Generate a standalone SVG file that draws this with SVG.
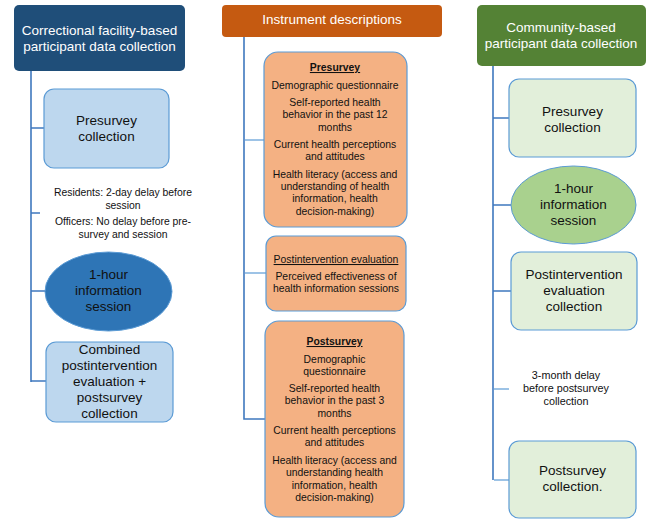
<svg xmlns="http://www.w3.org/2000/svg" width="656" height="527" viewBox="0 0 656 527">
<style>
text{font-family:"Liberation Sans",Arial,sans-serif;fill:#111;text-anchor:middle}
.big{font-size:13.5px}
.sm{font-size:10.4px}
.hd{font-size:13.5px;fill:#fff}
.con{stroke:#3F78BE;stroke-width:1.6;fill:none}
.lt{stroke:#9DC3E6;stroke-width:2;fill:none}
.bl{fill:#BDD7EE;stroke:#5B9BD5;stroke-width:1.2}
.gr{fill:#E2EFDA;stroke:#5B9BD5;stroke-width:1.2}
.or{fill:#F4B183;stroke:#5B9BD5;stroke-width:1.2}
.u{text-decoration:underline;font-weight:bold}
</style>
<rect width="656" height="527" fill="#fff"/>
<g id="connectors">
<path class="con" d="M31 71V382M31 128H44M31 213H40M31 291H45M31 381H46"/>
<path class="lt" d="M245 140H264M245 273H266"/>
<path class="con" d="M244 37V419H265"/>
<path class="con" d="M493 66V480M493 118H509M493 205H511M493 291H511"/>
<path class="lt" d="M494 389H509M494 480H509"/>
</g>
<g id="hdr-left">
<rect x="14" y="5" width="171" height="66" rx="5" fill="#1F4E79"/>
<text class="hd" x="99.5" y="35">Correctional facility-based</text>
<text class="hd" x="99.5" y="51">participant data collection</text>
</g>
<g id="pre-left">
<rect class="bl" x="44" y="89" width="125" height="79" rx="10"/>
<text class="big" x="106.5" y="125">Presurvey</text>
<text class="big" x="106.5" y="141">collection</text>
</g>
<g id="delay-left">
<text class="sm" x="123" y="196">Residents: 2-day delay before</text>
<text class="sm" x="123" y="209">session</text>
<text class="sm" x="123" y="225">Officers: No delay before pre-</text>
<text class="sm" x="123" y="238">survey and session</text>
</g>
<g id="session-left">
<ellipse cx="108.5" cy="291.5" rx="63.5" ry="39.5" fill="#2E75B6" stroke="#5B9BD5" stroke-width="1"/>
<text class="big" x="108.5" y="279">1-hour</text>
<text class="big" x="108.5" y="295">information</text>
<text class="big" x="108.5" y="311">session</text>
</g>
<g id="post-left">
<rect class="bl" x="46" y="342" width="127" height="80" rx="10"/>
<text class="big" x="109.5" y="354">Combined</text>
<text class="big" x="109.5" y="370">postintervention</text>
<text class="big" x="109.5" y="386">evaluation +</text>
<text class="big" x="109.5" y="402">postsurvey</text>
<text class="big" x="109.5" y="418">collection</text>
</g>
<g id="hdr-mid">
<rect x="222" y="5" width="220" height="32" rx="4" fill="#C55A11"/>
<text class="hd" x="332" y="24">Instrument descriptions</text>
</g>
<g id="presurvey-desc">
<rect class="or" x="264" y="52" width="143" height="175" rx="14"/>
<text class="sm u" x="335" y="71">Presurvey</text>
<text class="sm" x="335" y="89">Demographic questionnaire</text>
<text class="sm" x="335" y="106">Self-reported health</text>
<text class="sm" x="335" y="118">behavior in the past 12</text>
<text class="sm" x="335" y="131">months</text>
<text class="sm" x="335" y="148">Current health perceptions</text>
<text class="sm" x="335" y="160">and attitudes</text>
<text class="sm" x="335" y="178">Health literacy (access and</text>
<text class="sm" x="335" y="190">understanding of health</text>
<text class="sm" x="335" y="202">information, health</text>
<text class="sm" x="335" y="215">decision-making)</text>
</g>
<g id="posteval-desc">
<rect class="or" x="266" y="236" width="140" height="75" rx="10"/>
<text class="sm" x="336" y="263" style="text-decoration:underline">Postintervention evaluation</text>
<text class="sm" x="336" y="280">Perceived effectiveness of</text>
<text class="sm" x="336" y="292">health information sessions</text>
</g>
<g id="postsurvey-desc">
<rect class="or" x="265" y="321" width="139" height="196" rx="14"/>
<text class="sm u" x="334.5" y="345">Postsurvey</text>
<text class="sm" x="334.5" y="363">Demographic</text>
<text class="sm" x="334.5" y="375">questionnaire</text>
<text class="sm" x="334.5" y="392">Self-reported health</text>
<text class="sm" x="334.5" y="404">behavior in the past 3</text>
<text class="sm" x="334.5" y="417">months</text>
<text class="sm" x="334.5" y="434">Current health perceptions</text>
<text class="sm" x="334.5" y="446">and attitudes</text>
<text class="sm" x="334.5" y="464">Health literacy (access and</text>
<text class="sm" x="334.5" y="476">understanding health</text>
<text class="sm" x="334.5" y="489">information, health</text>
<text class="sm" x="334.5" y="501">decision-making)</text>
</g>
<g id="hdr-right">
<rect x="477" y="5" width="169" height="61" rx="5" fill="#548235"/>
<text class="hd" x="561" y="32">Community-based</text>
<text class="hd" x="561" y="48">participant data collection</text>
</g>
<g id="pre-right">
<rect class="gr" x="509" y="79" width="127" height="78" rx="10"/>
<text class="big" x="572.5" y="116">Presurvey</text>
<text class="big" x="572.5" y="132">collection</text>
</g>
<g id="session-right">
<ellipse cx="573.5" cy="205" rx="62.5" ry="39" fill="#A9D18E" stroke="#5B9BD5" stroke-width="1"/>
<text class="big" x="573.5" y="193">1-hour</text>
<text class="big" x="573.5" y="209">information</text>
<text class="big" x="573.5" y="225">session</text>
</g>
<g id="posteval-right">
<rect class="gr" x="511" y="252" width="126" height="78" rx="10"/>
<text class="big" x="574" y="279">Postintervention</text>
<text class="big" x="574" y="295">evaluation</text>
<text class="big" x="574" y="311">collection</text>
</g>
<g id="delay-right">
<text class="sm" x="566" y="379" style="font-size:10.8px">3-month delay</text>
<text class="sm" x="566" y="392" style="font-size:10.8px">before postsurvey</text>
<text class="sm" x="566" y="405" style="font-size:10.8px">collection</text>
</g>
<g id="post-right">
<rect class="gr" x="509" y="441" width="127" height="77" rx="10"/>
<text class="big" x="572.5" y="475">Postsurvey</text>
<text class="big" x="572.5" y="491">collection.</text>
</g>
</svg>
